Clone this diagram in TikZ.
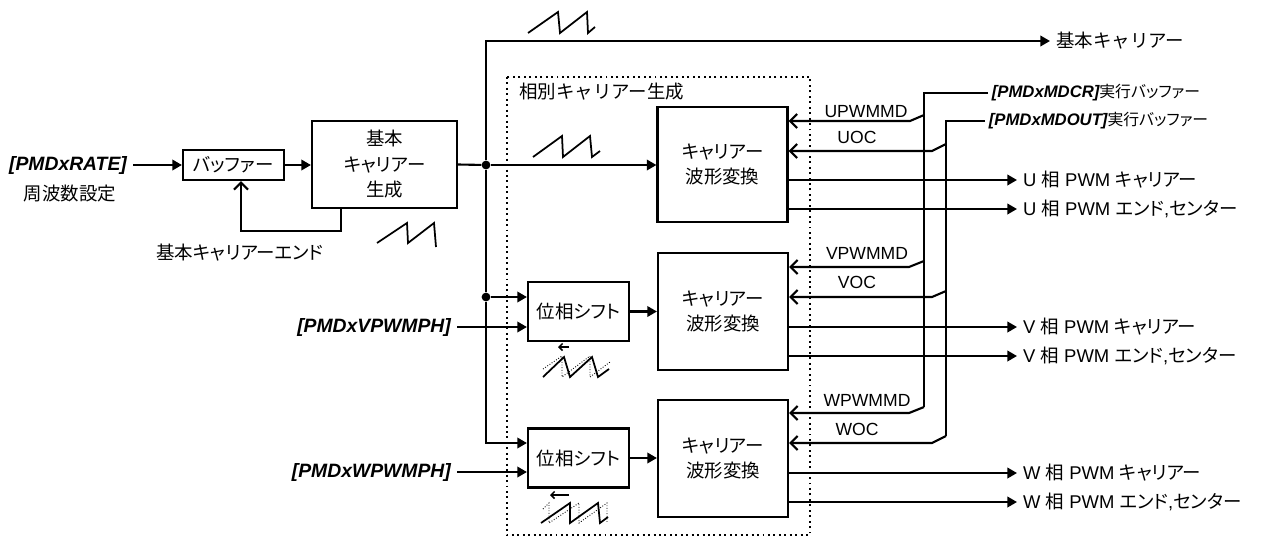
\documentclass[tikz,border=0pt]{standalone}
\usepackage{fontspec}
\setmainfont{Liberation Sans}
\newfontfamily\jp{Noto Sans CJK JP}
\newfontfamily\jpp[RawFeature=+palt]{Noto Sans CJK JP}
\usetikzlibrary{arrows.meta,calc}

\tikzset{
  blk/.style={draw,line width=1.25pt,align=center,inner sep=0pt,font=\jpp\fontsize{10.5}{14.5}\selectfont},
  ln/.style={line width=1.2pt},
  sg/.style={line width=0.85pt},
  arr/.style={ln,-{Triangle[length=5.5pt,width=6pt]}},
  barb/.style={ln,-{Straight Barb[length=4pt,width=8pt]}},
  jdot/.style={circle,fill,inner sep=0pt,minimum size=5pt},
  jtxt/.style={font=\jpp\fontsize{10.5}{12}\selectfont},
  wtxt/.style={font=\jp\fontsize{10.5}{12}\selectfont},
  ltxt/.style={font=\fontsize{10.5}{12}\selectfont},
  sigtxt/.style={font=\fontsize{10}{12}\selectfont},
  reg/.style={font=\fontsize{11}{12}\selectfont\bfseries\itshape},
  bufreg/.style={font=\fontsize{9.5}{12}\selectfont\bfseries\itshape,inner sep=2pt},
  wave/.style={line width=1pt},
}

\begin{document}
\begin{tikzpicture}[x=0.02cm,y=-0.02cm]
  \useasboundingbox (0,0) rectangle (1277,538);

  % base carrier
  \node[reg] (rate) at (68,165) {[PMDxRATE]};
  \node[wtxt] (ratej) at (70,194) {周波数設定};
  \node[blk,minimum width=2.02cm,minimum height=0.6cm] (buf) at (233.5,165) {バッファー};
  \node[blk,minimum width=2.9cm,minimum height=1.74cm] (base) at (384.5,164.5) {基本\\キャリアー\\生成};
  \node[jtxt] (bend) at (240,253) {基本キャリアーエンド};
  \draw[arr] (rate.east) -- (buf.west);
  \draw[arr] (buf.east) -- (buf.east -| base.west);
  \draw[barb] (base.south -| 341,0) -- (341,231) -| (buf.south -| 241,0);
  \draw[wave] (377,243) -- (407,223) -- (408,243) -- (434,223) -- (436,247);

  % phase carrier group
  \draw[dotted,line width=1.1pt] (507,77) rectangle (810,535);
  \node[wtxt,anchor=west] (grp) at (513,92) {相別キャリアー生成};
  \node[blk,minimum width=2.6cm,minimum height=2.3cm] (ucar) at (722.5,164.5) {キャリアー\\波形変換};
  \node[blk,minimum width=2.6cm,minimum height=2.34cm] (vcar) at (723,311.5) {キャリアー\\波形変換};
  \node[blk,minimum width=2.6cm,minimum height=2.34cm] (wcar) at (723,458.5) {キャリアー\\波形変換};
  \node[blk,minimum width=2.02cm,minimum height=1.18cm] (vsh) at (578.5,311.5) {位相シフト};
  \node[blk,minimum width=2.02cm,minimum height=1.18cm] (wsh) at (578.5,458) {位相シフト};
  \node[reg,anchor=east] (vph) at (457,327) {[PMDxVPWMPH]};
  \node[reg,anchor=east] (wph) at (457,472) {[PMDxWPWMPH]};

  % trunk
  \node[wtxt,anchor=west] (bout) at (1050,41) {基本キャリアー};
  \node[jdot] (ju) at (486,165) {};
  \node[jdot] (jv) at (486,297) {};
  \draw[ln] (base.east) -- (ju);
  \draw[arr] (ju) |- (bout.west);
  \draw[arr] (ju) -- (ju -| ucar.west);
  \draw[ln] (ju) -- (jv);
  \draw[arr] (jv) -- (jv -| vsh.west);
  \draw[arr] (jv) |- ([yshift=0.3cm]wsh.west);
  \draw[arr] (vph.east) -- (vph.east -| vsh.west);
  \draw[arr] (wph.east) -- (wph.east -| wsh.west);
  \draw[arr] (vsh.east) -- (vcar.west);
  \draw[arr] (wsh.east) -- (wsh.east -| wcar.west);
  \draw[wave] (528,33) -- (558,12) -- (560,33) -- (587,12) -- (588,33) -- (595,27);
  \draw[wave] (533,157) -- (562,136) -- (563,157) -- (590,136) -- (592,157) -- (600,151);

  % shifted waves
  \draw[sg,-{Straight Barb[length=2pt,width=4pt]}] (569,347) -- (558,347);
  \draw[densely dotted,line width=0.5pt] (543,369) -- (562,356) -- (562,377) -- (590,356) -- (590,377) -- (610,362);
  \draw[wave] (543,377) -- (564,357) -- (570,377) -- (592,357) -- (598,377) -- (609,369);
  \draw[sg,-{Straight Barb[length=2pt,width=4pt]}] (569,495) -- (550,495);
  \draw[densely dotted,line width=0.5pt] (543,509) -- (549,503) -- (549,523) -- (579,503) -- (579,523) -- (607,503) -- (607,523);
  \draw[wave] (541,523) -- (570,503) -- (570,523) -- (598,503) -- (600,523) -- (608,517);

  % mode / output buffers
  \node[bufreg,anchor=west] (mdcr) at (988,93) {[PMDxMDCR]{\normalfont\jpp\fontsize{9}{12}\selectfont 実行バッファー}};
  \node[bufreg,anchor=west] (mdout) at (985,121) {[PMDxMDOUT]{\normalfont\jpp\fontsize{9}{12}\selectfont 実行バッファー}};
  \draw[sg] (mdcr.west) -| (924,407);
  \draw[sg] (mdout.west) -| (946,436);
  \draw[barb] (924,115) -- (910,121) -- (ucar.east |- 0,121);
  \draw[barb] (946,144) -- (932,151) -- (ucar.east |- 0,151);
  \draw[barb] (924,261) -- (909,267) -- (vcar.east |- 0,267);
  \draw[barb] (946,291) -- (932,297) -- (vcar.east |- 0,297);
  \draw[barb] (924,407) -- (909,413) -- (wcar.east |- 0,413);
  \draw[barb] (946,436) -- (932,443) -- (wcar.east |- 0,443);
  \node[sigtxt] (upm) at (866,112) {UPWMMD};
  \node[sigtxt] (uoc) at (857,137) {UOC};
  \node[sigtxt] (vpm) at (867,253) {VPWMMD};
  \node[sigtxt] (voc) at (857,282) {VOC};
  \node[sigtxt] (wpm) at (867,400) {WPWMMD};
  \node[sigtxt] (woc) at (857,429) {WOC};

  % outputs
  \node[ltxt,anchor=west] (uo1) at (1017,180) {U {\jpp 相} PWM {\jpp キャリアー}};
  \node[ltxt,anchor=west] (uo2) at (1017,209) {U {\jpp 相} PWM {\jpp エンド},{\jpp センター}};
  \node[ltxt,anchor=west] (vo1) at (1017,327) {V {\jpp 相} PWM {\jpp キャリアー}};
  \node[ltxt,anchor=west] (vo2) at (1017,356) {V {\jpp 相} PWM {\jpp エンド},{\jpp センター}};
  \node[ltxt,anchor=west] (wo1) at (1017,473) {W {\jpp 相} PWM {\jpp キャリアー}};
  \node[ltxt,anchor=west] (wo2) at (1017,502) {W {\jpp 相} PWM {\jpp エンド},{\jpp センター}};
  \draw[arr] (ucar.east |- uo1) -- (uo1.west);
  \draw[arr] (ucar.east |- uo2) -- (uo2.west);
  \draw[arr] (vcar.east |- vo1) -- (vo1.west);
  \draw[arr] (vcar.east |- vo2) -- (vo2.west);
  \draw[arr] (wcar.east |- wo1) -- (wo1.west);
  \draw[arr] (wcar.east |- wo2) -- (wo2.west);
\end{tikzpicture}
\end{document}
